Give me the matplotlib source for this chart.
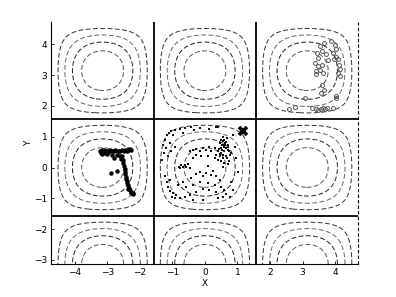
import numpy as np
import matplotlib
matplotlib.use("Agg")
import matplotlib.pyplot as plt

# ---- data ----
x_ticks = [-4, -3, -2, -1, 0, 1, 2, 3, 4]
y_ticks = [-3, -2, -1, 0, 1, 2, 3, 4]
contour_levels = [-0.8, -0.6, -0.4, -0.2, 0.2, 0.4, 0.6, 0.8]
cell_bounds = [-np.pi / 2, np.pi / 2]

# filled dots, middle-left cell
left_x = [-3.22, -3.20, -3.17, -3.15, -3.13, -3.10, -3.08, -3.05, -3.02, -3.00,
          -2.97, -2.93, -2.90, -2.85, -2.80, -2.75, -2.70, -2.65, -2.60, -2.55,
          -2.50, -2.45, -2.40, -2.35, -2.30, -2.28,
          -2.85, -2.78, -2.70, -2.62, -2.58,
          -2.55, -2.52, -2.51, -2.49, -2.46, -2.46, -2.44, -2.41, -2.41, -2.39,
          -2.38, -2.36, -2.33, -2.35, -2.30, -2.26, -2.22, -2.28, -2.20,
          -2.87, -2.70]
left_y = [0.55, 0.47, 0.56, 0.44, 0.52, 0.57, 0.46, 0.53, 0.43, 0.55,
          0.50, 0.56, 0.53, 0.55, 0.52, 0.56, 0.53, 0.55, 0.52, 0.57,
          0.55, 0.57, 0.55, 0.59, 0.60, 0.57,
          0.40, 0.32, 0.42, 0.37, 0.27,
          0.38, 0.24, 0.14, 0.05, -0.05, -0.13, -0.22, -0.30, -0.38, -0.45,
          -0.51, -0.58, -0.65, -0.70, -0.74, -0.78, -0.82, -0.82, -0.86,
          -0.19, -0.10]

# small dots, centre cell
mid_x = [-1.23, -1.18, -1.10, -1.03, -0.93, -0.78, -0.62, -0.42, -0.35, -0.16,
         0.14, 0.40, -0.98, -0.67, -1.29, -1.20, -1.27, -1.13, -1.31, -1.08,
         -0.93, -1.03,
         -0.80, -0.72, -0.67, -0.62, -0.57, -0.52, -0.76, -0.47,
         -0.47, -0.37, -0.27, -0.16, -0.06, 0.04, 0.14, 0.19, 0.30, -0.27,
         -0.11, 0.09, -0.37,
         0.45, 0.55, 0.65, 0.70, 0.60, 0.50, 0.40, 0.50, 0.60, 0.70,
         0.35, 0.45, 0.55, 0.65, 0.76, 0.50, 0.60, 0.40, 0.30, 0.73,
         0.81, 0.63, 0.53, 0.58, 0.68, 0.48,
         0.91, 0.96, 1.01, 0.86, 0.35, 0.54, 0.59,
         -0.16, 0.04, 0.19, -0.06, -0.27, -0.42, 0.35, 0.45, 0.09, 0.30,
         0.50, 0.60, 0.65, 0.76, 0.55, 0.35, 0.14, -0.06, -0.27, -0.47,
         -0.62, -0.78, -0.88, -0.98, -1.06, -1.00, -0.93, -1.13, -1.18, -1.23,
         -1.08, -0.67, -0.57, -0.83, -0.37, -0.16, 0.81, 0.86, 0.40, -0.06,
         -0.37, 0.10, 0.25, 0.55, 0.70,
         0.62, 0.66, 0.57, 0.72, 0.52, 0.47, 0.68, 0.43, 0.75, 0.58]
mid_y = [0.90, 1.04, 1.12, 1.17, 1.21, 1.25, 1.28, 1.33, 1.23, 1.28,
         1.26, 1.30, 1.07, 1.12, 0.74, 0.63, 0.47, 0.36, 0.25, 0.79,
         0.68, 0.52,
         0.03, 0.07, 0.02, 0.09, 0.03, 0.11, -0.02, 0.00,
         0.52, 0.58, 0.61, 0.54, 0.63, 0.58, 0.65, 0.52, 0.63, 0.41,
         0.36, 0.36, 0.30,
         0.79, 0.85, 0.82, 0.74, 0.68, 0.63, 0.52, 0.47, 0.52, 0.58,
         0.41, 0.36, 0.30, 0.36, 0.41, 0.20, 0.14, 0.25, 0.30, 0.20,
         0.47, 0.72, 0.72, 0.90, 0.95, 0.88,
         0.68, 0.30, -0.13, 1.07, 1.33, 1.00, 0.74,
         -0.13, -0.18, -0.24, -0.29, -0.22, -0.35, -0.29, -0.40, -0.51, -0.57,
         -0.62, -0.73, -0.87, -0.95, -0.95, -0.78, -0.73, -0.70, -0.80, -0.89,
         -0.95, -1.00, -0.89, -0.84, -0.76, -0.95, -1.00, -0.62, -0.46, -0.29,
         -0.40, -0.46, -0.62, -0.57, -0.57, -0.46, -0.46, -0.73, -1.00, -1.05,
         -1.05, 0.05, -0.10, 0.02, 0.10,
         0.78, 0.62, 0.40, 0.66, 0.58, 0.44, 0.30, 0.60, 0.52, 0.88]

# open circles, top-right cell
ring_x = [3.53, 3.66, 3.58, 3.45, 3.47, 3.73, 3.88, 3.98, 4.04, 3.93,
          4.01, 4.09, 3.96, 3.78, 3.37, 3.47, 3.60, 3.42, 3.53, 3.63,
          3.40, 4.11, 4.14, 4.09, 4.14, 3.60, 3.66, 3.56, 3.07, 4.04,
          2.58, 2.77, 3.30, 3.40, 3.47, 3.56, 3.63, 3.70, 3.76, 3.93,
          4.02]
ring_y = [3.94, 4.05, 3.78, 3.70, 3.56, 3.67, 4.10, 3.99, 3.83, 3.70,
          3.59, 3.52, 3.52, 3.50, 3.40, 3.29, 3.34, 3.13, 3.18, 3.07,
          3.02, 3.34, 3.20, 3.07, 2.96, 2.69, 2.53, 2.42, 2.25, 2.25,
          1.90, 1.96, 1.93, 1.90, 1.87, 1.90, 1.92, 1.90, 1.92, 1.93,
          2.33]

# final position marker
cross_x = [1.17]
cross_y = [1.19]

# ---- plot ----
fig = plt.figure(figsize=(3.96, 2.97), dpi=100)
ax = fig.add_axes([0.13, 0.11, 0.775, 0.815])

xmin, xmax = -1.5 * np.pi, 1.5 * np.pi
ymin, ymax = -np.pi, 1.5 * np.pi
gx = np.linspace(xmin, xmax, 400)
gy = np.linspace(ymin, ymax, 400)
GX, GY = np.meshgrid(gx, gy)
Z = np.cos(GX) * np.cos(GY)
cs = ax.contour(GX, GY, Z, levels=contour_levels,
                colors=['#555555', '#222222', '#666666', '#333333',
                        '#333333', '#666666', '#222222', '#555555'],
                linewidths=0.7)
cs.set_linestyle((0, (5, 2.5)))

for b in cell_bounds:
    ax.axvline(b, color='black', lw=1.3, zorder=3)
    ax.axhline(b, color='black', lw=1.3, zorder=3)
ax.axvline(xmax, color='black', lw=0.8, ls=(0, (3, 2)), zorder=3, clip_on=False)

ax.plot(mid_x, mid_y, 's', color='#111111', ms=1.9, mew=0, zorder=4)
ax.plot(left_x, left_y, 'o', color='black', ms=3.2, mew=0, zorder=4)
ax.plot(ring_x, ring_y, 'o', mfc='none', mec='#555555', ms=2.8, mew=0.7, zorder=4)
ax.plot(cross_x, cross_y, 'x', color='black', ms=6, mew=2.6, zorder=5)

ax.set_xlim(xmin, xmax)
ax.set_ylim(ymin, ymax)
ax.set_xticks(x_ticks)
ax.set_yticks(y_ticks)
ax.tick_params(direction='in', length=2.5, width=0.6, labelsize=6.5, pad=3)
ax.spines['top'].set_visible(False)
ax.spines['right'].set_visible(False)
ax.spines['left'].set_linewidth(0.8)
ax.spines['bottom'].set_linewidth(0.8)
ax.set_xlabel('X', fontsize=6.5, labelpad=1)
ax.set_ylabel('Y', fontsize=6.5, labelpad=1)

fig.savefig('out.png', dpi=100)
